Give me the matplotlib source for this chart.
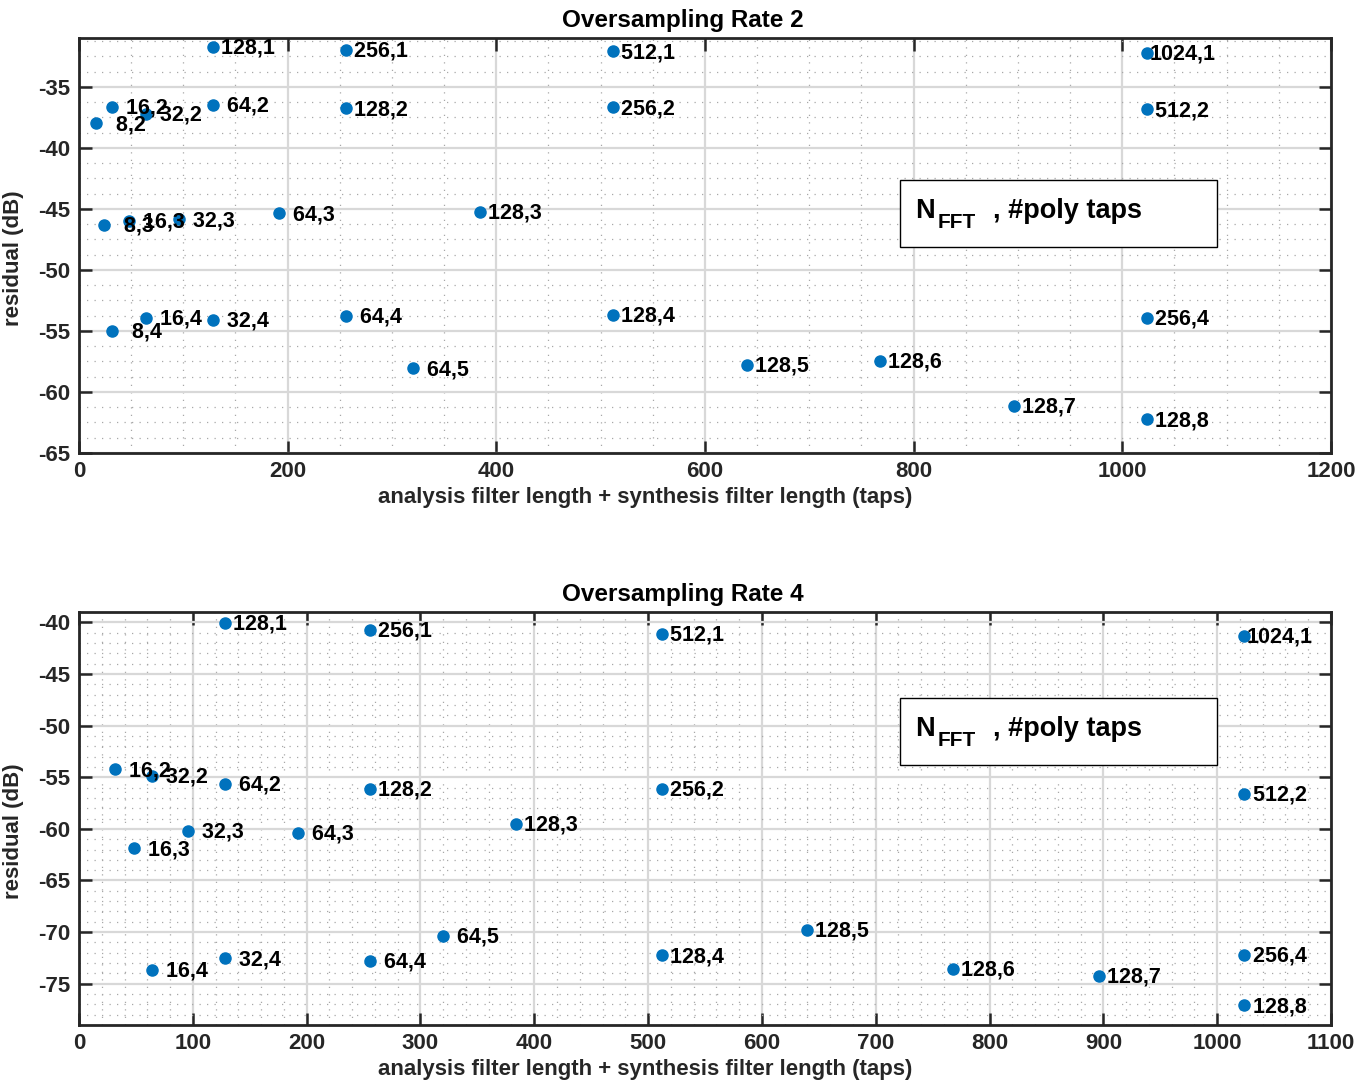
import matplotlib
matplotlib.use("Agg")
import matplotlib.pyplot as plt
from matplotlib.patches import Rectangle
from matplotlib.ticker import MultipleLocator

plt.rcParams['font.family'] = ['Liberation Sans', 'DejaVu Sans']
plt.rcParams['font.weight'] = 'bold'
plt.rcParams['axes.unicode_minus'] = False

# oversampling rate 2: (N_FFT, poly taps) -> residual (dB)
nfft_os2 = [128, 256, 512, 1024,
            8, 16, 32, 64, 128, 256, 512,
            8, 16, 32, 64, 128,
            8, 16, 32, 64, 128, 256,
            64, 128, 128, 128, 128]
taps_os2 = [1, 1, 1, 1,
            2, 2, 2, 2, 2, 2, 2,
            3, 3, 3, 3, 3,
            4, 4, 4, 4, 4, 4,
            5, 5, 6, 7, 8]
resid_os2 = [-31.7, -31.95, -32.1, -32.22,
             -38.0, -36.65, -37.2, -36.45, -36.75, -36.67, -36.85,
             -46.3, -45.95, -45.85, -45.35, -45.25,
             -55.0, -53.9, -54.1, -53.75, -53.7, -53.9,
             -58.05, -57.75, -57.45, -61.15, -62.25]

# oversampling rate 4
nfft_os4 = [128, 256, 512, 1024,
            16, 32, 64, 128, 256, 512,
            16, 32, 64, 128,
            16, 32, 64, 128, 256,
            64, 128, 128, 128, 128]
taps_os4 = [1, 1, 1, 1,
            2, 2, 2, 2, 2, 2,
            3, 3, 3, 3,
            4, 4, 4, 4, 4,
            5, 5, 6, 7, 8]
resid_os4 = [-40.07, -40.7, -41.08, -41.3,
             -54.25, -54.85, -55.65, -56.1, -56.1, -56.6,
             -61.9, -60.2, -60.4, -59.5,
             -73.65, -72.55, -72.8, -72.25, -72.2,
             -70.35, -69.8, -73.55, -74.25, -77.1]

DARK = '#262626'
BLUE = '#0072BD'


def draw_panel(ax, nfft, taps, resid, title, xmax, xstep, xminor,
               ylim, yminor, box_y0):
    # total taps of analysis + synthesis = N_FFT * poly taps
    x = [n * t for n, t in zip(nfft, taps)]
    ax.plot(x, resid, 'o', color=BLUE, ms=8, mec=BLUE, zorder=3)
    for xi, yi, n, t in zip(x, resid, nfft, taps):
        ax.annotate(f"{n:4d},{t}", (xi, yi), xytext=(1.5, -1),
                    textcoords='offset points', ha='left', va='center',
                    fontsize=15.5, fontweight='bold', color='black', zorder=4)

    ax.set_xlim(0, xmax)
    ax.set_ylim(*ylim)
    ax.xaxis.set_major_locator(MultipleLocator(xstep))
    ax.xaxis.set_minor_locator(MultipleLocator(xminor))
    ax.yaxis.set_major_locator(MultipleLocator(5))
    ax.yaxis.set_minor_locator(MultipleLocator(yminor))
    ax.set_axisbelow(True)
    ax.grid(which='major', color='#d8d8d8', lw=1.6, ls='-')
    ax.grid(which='minor', color='#a8a8a8', lw=0.9, ls=(0, (1, 5)))
    ax.tick_params(which='major', direction='in', length=9, width=1.8,
                   top=True, right=True, colors=DARK, labelsize=16, pad=6)
    ax.tick_params(which='minor', length=0)
    for sp in ax.spines.values():
        sp.set_linewidth(2)
        sp.set_color(DARK)

    ax.set_title(title, fontsize=17.5, fontweight='bold', x=0.482, pad=8)
    ax.set_xlabel('analysis filter length + synthesis filter length (taps)',
                  fontsize=16, fontweight='bold', color=DARK)
    ax.xaxis.set_label_coords(0.452, -0.083)
    ax.set_ylabel('residual (dB)', fontsize=16, fontweight='bold', color=DARK)
    ax.yaxis.set_label_coords(-0.044, 0.47)

    # label key box
    ax.add_patch(Rectangle((0.6555, box_y0), 0.2532, 0.1615,
                           transform=ax.transAxes, fill=True, fc='white',
                           ec='black', lw=1.0, zorder=2.5))
    ax.text(0.6677, box_y0 + 0.07, 'N', transform=ax.transAxes,
            fontsize=19.5, fontweight='bold', va='baseline', zorder=5)
    ax.text(0.6861, box_y0 + 0.046, 'FFT', transform=ax.transAxes,
            fontsize=15, fontweight='bold', va='baseline', zorder=5)
    ax.text(0.730, box_y0 + 0.07, ', #poly taps', transform=ax.transAxes,
            fontsize=19.5, fontweight='bold', va='baseline', zorder=5)


fig = plt.figure(figsize=(13.69, 10.90), dpi=100)
ax1 = fig.add_axes([0.0577, 0.5844, 0.9145, 0.3807])
ax2 = fig.add_axes([0.0577, 0.0596, 0.9145, 0.3789])

draw_panel(ax1, nfft_os2, taps_os2, resid_os2, 'Oversampling Rate 2',
           1200, 200, 50, (-65, -31), 1.25, 0.4964)
draw_panel(ax2, nfft_os4, taps_os4, resid_os4, 'Oversampling Rate 4',
           1100, 100, 20, (-79, -39), 1, 0.6295)

fig.savefig('out.png', dpi=100)
